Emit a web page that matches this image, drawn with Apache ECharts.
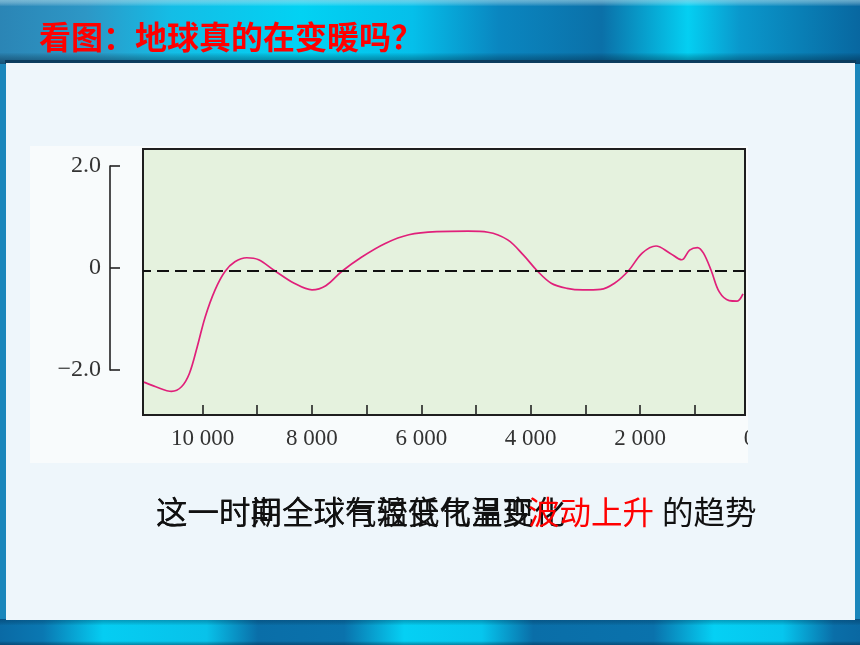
<!DOCTYPE html>
<html>
<head>
<meta charset="utf-8">
<script src="https://cdn.jsdelivr.net/npm/echarts@6/dist/echarts.min.js"></script>
<style>html,body{margin:0;padding:0;background:#eef6fb;}#c{width:860px;height:645px;}</style>
</head>
<body>
<div id="c"></div>
<script>
// Years before present and temperature anomaly (°C)
const years = [11069,10854,10565,10384,10240,10095,9951,9770,9589,9408,9190,8974,8686,8324,7998,7746,7456,7095,6660,6227,5720,5143,4781,4420,4132,3878,3625,3336,3046,2722,2468,2216,1962,1709,1455,1240,1095,951,841,697,552,371,226,119];
const anomaly = [-2.18,-2.27,-2.36,-2.27,-2.01,-1.48,-0.90,-0.37,-0.01,0.18,0.26,0.22,0.01,-0.24,-0.37,-0.29,-0.01,0.27,0.54,0.71,0.77,0.78,0.76,0.61,0.31,0.00,-0.24,-0.34,-0.37,-0.36,-0.24,0.00,0.35,0.49,0.35,0.22,0.41,0.46,0.35,0.00,-0.41,-0.58,-0.59,-0.45];
const xTickValues = [1000,2000,3000,4000,5000,6000,7000,8000,9000,10000];
const xLabelValues = [0,2000,4000,6000,8000,10000];
const xLabelTexts = ['0','2 000','4 000','6 000','8 000','10 000'];
const yLabelValues = [-2,0,2];
const yLabelTexts = ['\u22122.0','0','2.0'];
const titleText = '看图：地球真的在变暖吗？';
const noteA1 = '这一时期全球气温变化呈现';
const noteRed = '波动上升';
const noteA2 = '的趋势';
const noteB = '这一时间全球有较低气温变化';

const chart = echarts.init(document.getElementById('c'), null, {renderer:'canvas'});
const seriesData = years.map((y,i)=>[y, anomaly[i]]);
const cjk = '"Noto Sans CJK SC", sans-serif';
const serif = '"Liberation Serif", "DejaVu Serif", serif';

const topBand = new echarts.graphic.LinearGradient(0,0,1,0,[
 {offset:0,color:'#2b85b5'},{offset:0.1,color:'#2d97c6'},{offset:0.2,color:'#14bde6'},
 {offset:0.35,color:'#02d2f3'},{offset:0.48,color:'#05bfea'},{offset:0.58,color:'#0a86c0'},
 {offset:0.7,color:'#0b70a8'},{offset:0.8,color:'#04cff2'},{offset:0.86,color:'#0a98cc'},{offset:1,color:'#0867a0'}]);
const botBand = new echarts.graphic.LinearGradient(0,0,1,0,[
 {offset:0,color:'#0a6aa5'},{offset:0.05,color:'#0a78b2'},{offset:0.12,color:'#05cdf2'},{offset:0.24,color:'#08c2ea'},
 {offset:0.3,color:'#0a6ea8'},{offset:0.4,color:'#0a72ac'},{offset:0.47,color:'#05d0f4'},{offset:0.56,color:'#06c6ee'},
 {offset:0.62,color:'#0a6ea8'},{offset:0.76,color:'#0a72ac'},{offset:0.83,color:'#05d0f4'},{offset:0.91,color:'#06c6ee'},
 {offset:0.97,color:'#0a6ea8'},{offset:1,color:'#0a68a2'}]);
const vShade = new echarts.graphic.LinearGradient(0,0,0,1,[
 {offset:0,color:'rgba(170,215,230,0.6)'},{offset:0.1,color:'rgba(255,255,255,0)'},
 {offset:0.82,color:'rgba(0,0,0,0)'},{offset:1,color:'rgba(0,30,60,0.5)'}]);
const vShadeB = new echarts.graphic.LinearGradient(0,0,0,1,[
 {offset:0,color:'rgba(0,40,80,0.35)'},{offset:0.25,color:'rgba(0,0,0,0)'},
 {offset:0.85,color:'rgba(0,0,0,0)'},{offset:1,color:'rgba(0,30,60,0.4)'}]);

chart.setOption({
  animation:false,
  backgroundColor:'#eef6fb',
  graphic:[
    {type:'rect',z:-20,shape:{x:0,y:0,width:860,height:645},style:{fill:'#1a86bb'}},
    {type:'rect',z:-19,shape:{x:0,y:0,width:860,height:64},style:{fill:topBand}},
    {type:'rect',z:-18,shape:{x:0,y:0,width:860,height:64},style:{fill:vShade}},
    {type:'rect',z:-19,shape:{x:0,y:619,width:860,height:26},style:{fill:botBand}},
    {type:'rect',z:-18,shape:{x:0,y:619,width:860,height:26},style:{fill:vShadeB}},
    {type:'rect',z:-17,shape:{x:5,y:60,width:851,height:4},style:{fill:'#0b3c5e'}},
    {type:'rect',z:-16,shape:{x:6,y:63,width:849,height:557},style:{fill:'#eef6fb'}},
    {type:'rect',z:-15,shape:{x:30,y:146,width:718,height:317},style:{fill:'#f8fbfc'}},
    {type:'text',z:50,x:39,y:37,style:{text:titleText,fill:'#ff0000',font:'bold 32px '+cjk,textVerticalAlign:'middle'}},
    {type:'text',z:50,x:156,y:512,style:{text:noteB,fill:'#111111',font:'31.5px '+cjk,textVerticalAlign:'middle'}},
    {type:'text',z:51,x:156,y:512,style:{text:noteA1,fill:'#111111',font:'31.5px '+cjk,textVerticalAlign:'middle'}},
    {type:'text',z:52,x:528,y:512,style:{text:noteRed,fill:'#ff0000',font:'31.5px '+cjk,textVerticalAlign:'middle'}},
    {type:'text',z:52,x:662,y:512,style:{text:noteA2,fill:'#111111',font:'31.5px '+cjk,textVerticalAlign:'middle'}},
    {type:'rect',z:100,shape:{x:748,y:422,width:30,height:34},style:{fill:'#eef6fb'}}
  ],
  grid:[
    {left:143,top:149,width:602,height:266,show:true,backgroundColor:'#e5f2de',borderColor:'#1e1e1e',borderWidth:2},
    {left:143,top:149,width:606.5,height:266,show:false},
    {left:110,top:166,width:10,height:204,show:false}
  ],
  xAxis:[
    {gridIndex:0,type:'value',inverse:true,min:82,max:11088,position:'bottom',
     axisLine:{show:false,onZero:false},splitLine:{show:false},axisLabel:{show:false},
     axisTick:{show:true,inside:true,length:10,customValues:xTickValues,lineStyle:{color:'#222',width:1.6}}},
    {gridIndex:1,type:'value',inverse:true,min:0,max:11088,interval:2000,position:'bottom',
     axisLine:{show:false,onZero:false},splitLine:{show:false},axisTick:{show:false},
     axisLabel:{show:true,customValues:xLabelValues,margin:12,color:'#333',fontFamily:serif,fontSize:23,
       formatter:v=>{const i=xLabelValues.indexOf(v);return i>=0?xLabelTexts[i]:'';}}},
    {gridIndex:2,type:'value',show:false,min:0,max:1}
  ],
  yAxis:[
    {gridIndex:0,type:'value',show:false,min:-2.824,max:2.392,splitLine:{show:false}},
    {gridIndex:1,type:'value',show:false,min:0,max:1},
    {gridIndex:2,type:'value',position:'left',min:-2,max:2,interval:2,
     axisLine:{show:true,onZero:false,lineStyle:{color:'#222',width:1.6}},
     axisTick:{show:true,inside:true,length:10,lineStyle:{color:'#222',width:1.6}},
     splitLine:{show:false},
     axisLabel:{show:true,margin:9,color:'#333',fontFamily:serif,fontSize:24,
       formatter:v=>{const i=yLabelValues.indexOf(v);return i>=0?yLabelTexts[i]:'';}}}
  ],
  series:[{
    type:'line',xAxisIndex:0,yAxisIndex:0,data:seriesData,smooth:0.35,symbol:'none',
    lineStyle:{color:'#e0207a',width:1.7},
    markLine:{silent:true,symbol:'none',label:{show:false},
      lineStyle:{type:[12,6],color:'#111',width:2},data:[{yAxis:0}]}
  }]
});
</script>
</body>
</html>
